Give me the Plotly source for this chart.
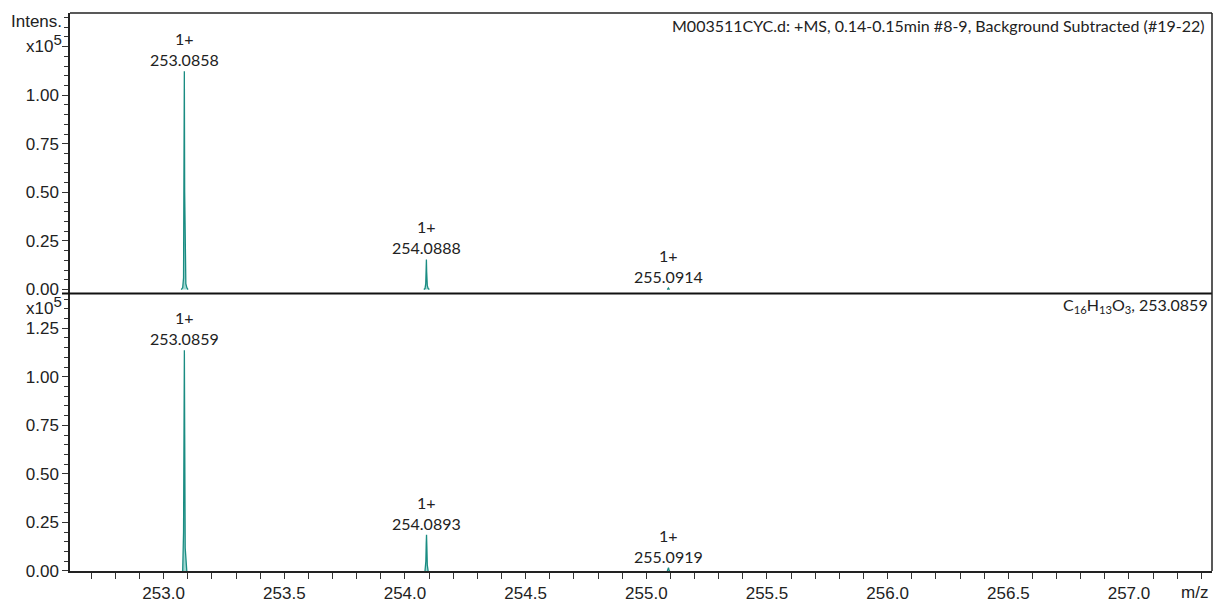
import plotly.graph_objects as go

# Measured spectrum, profile points per isotope peak (intensity in units of 1e5)
meas_mz = [
    [253.0730, 253.0790, 253.0825, 253.0845, 253.0858, 253.0872, 253.0890, 253.0920, 253.0960, 253.1010],
    [254.0780, 254.0830, 254.0860, 254.0876, 254.0888, 254.0900, 254.0925, 254.0960, 254.1010],
    [255.0870, 255.0900, 255.0914, 255.0930, 255.0965],
]
meas_int = [
    [0, 0.01, 0.06, 0.55, 1.124, 0.50, 0.08, 0.03, 0.01, 0],
    [0, 0.005, 0.03, 0.10, 0.155, 0.09, 0.02, 0.006, 0],
    [0, 0.004, 0.008, 0.004, 0],
]

# Simulated isotope pattern for C16H13O3
sim_mz = [
    [253.0790, 253.0825, 253.0845, 253.0859, 253.0873, 253.0893, 253.0925, 253.0960],
    [254.0830, 254.0865, 254.0880, 254.0893, 254.0906, 254.0925, 254.0960],
    [255.0870, 255.0905, 255.0919, 255.0933, 255.0965],
]
sim_int = [
    [0, 0.20, 0.75, 1.136, 0.70, 0.12, 0.02, 0],
    [0, 0.05, 0.14, 0.187, 0.13, 0.03, 0],
    [0, 0.009, 0.017, 0.009, 0],
]

meas_peaks = [253.0858, 254.0888, 255.0914]
meas_peak_int = [1.124, 0.155, 0.008]
sim_peaks = [253.0859, 254.0893, 255.0919]
sim_peak_int = [1.136, 0.187, 0.017]
charge = "1+"

x_ticks = [253.0, 253.5, 254.0, 254.5, 255.0, 255.5, 256.0, 256.5, 257.0]

TEAL = "#1a8c82"
FILL = "rgba(95,190,180,0.6)"
TXT = "#222222"
LBL_FONT = dict(family="Lato, Open Sans, sans-serif", size=16, color=TXT)
TICK_FONT = dict(family="Liberation Sans, Arial, sans-serif", size=17, color=TXT)
EXP = "x10<sup><span style='font-size:15px'>5</span></sup>"

fig = go.Figure()
for xs, ys in zip(meas_mz, meas_int):
    fig.add_trace(go.Scatter(x=xs, y=ys, mode="lines", fill="tozeroy",
                             line=dict(color=TEAL, width=1.3), fillcolor=FILL,
                             xaxis="x", yaxis="y2", hoverinfo="skip", showlegend=False))
for xs, ys in zip(sim_mz, sim_int):
    fig.add_trace(go.Scatter(x=xs, y=ys, mode="lines", fill="tozeroy",
                             line=dict(color=TEAL, width=1.3), fillcolor=FILL,
                             xaxis="x", yaxis="y", hoverinfo="skip", showlegend=False))

annotations = []
for mz, h in zip(meas_peaks, meas_peak_int):
    annotations.append(dict(x=mz, y=h, xref="x", yref="y2", text=f"{charge}<br>{mz:.4f}",
                            showarrow=False, yanchor="bottom", yshift=0, font=LBL_FONT,
                            align="center"))
for mz, h in zip(sim_peaks, sim_peak_int):
    annotations.append(dict(x=mz, y=h, xref="x", yref="y", text=f"{charge}<br>{mz:.4f}",
                            showarrow=False, yanchor="bottom", yshift=0, font=LBL_FONT,
                            align="center"))

annotations += [
    dict(x=0.996, y=0.977, xref="paper", yref="paper", xanchor="right", yanchor="middle",
         text="M003511CYC.d: +MS, 0.14-0.15min #8-9, Background Subtracted (#19-22)",
         showarrow=False, font=LBL_FONT),
    dict(x=0.998, y=0.476, xref="paper", yref="paper", xanchor="right", yanchor="middle",
         text="C<sub>16</sub>H<sub>13</sub>O<sub>3</sub>, 253.0859",
         showarrow=False, font=LBL_FONT),
    dict(x=-0.005, y=0.985, xref="paper", yref="paper", xanchor="right", yanchor="middle",
         text="Intens.", showarrow=False, font=TICK_FONT),
    dict(x=-0.005, y=0.946, xref="paper", yref="paper", xanchor="right", yanchor="middle",
         text=EXP, showarrow=False, font=TICK_FONT),
    dict(x=-0.005, y=0.476, xref="paper", yref="paper", xanchor="right", yanchor="middle",
         text=EXP, showarrow=False, font=TICK_FONT),
    dict(x=0.985, y=-0.018, xref="paper", yref="paper", xanchor="center", yanchor="top",
         text="m/z", showarrow=False, font=TICK_FONT),
]

y_common = dict(ticks="outside", ticklen=6, tickwidth=1, tickcolor="#333",
                showline=True, linecolor="#222", linewidth=1.5, showgrid=False,
                zeroline=False, tickfont=TICK_FONT, tickformat=".2f",
                minor=dict(dtick=0.05, ticks="outside", ticklen=4, tickcolor="#333"))

fig.update_layout(
    width=1215, height=606,
    margin=dict(l=70, r=3, t=13, b=30),
    paper_bgcolor="white", plot_bgcolor="white",
    xaxis=dict(range=[252.612, 257.344], tickvals=x_ticks, ticktext=[f"{v:.1f}" for v in x_ticks],
               ticks="outside", ticklen=6, tickcolor="#333", showline=True, linecolor="#222",
               linewidth=1.5, showgrid=False, zeroline=False, tickfont=TICK_FONT,
               minor=dict(dtick=0.1, tick0=253.0, ticks="outside", ticklen=6, tickcolor="#333"),
               anchor="y"),
    yaxis=dict(domain=[0, 0.4973], range=[0, 1.4286],
               tickvals=[0, 0.25, 0.5, 0.75, 1.0, 1.25], **y_common),
    yaxis2=dict(domain=[0.4973, 1], range=[-0.0204, 1.4235],
                tickvals=[0, 0.25, 0.5, 0.75, 1.0, 1.25],
                ticktext=["0.00", "0.25", "0.50", "0.75", "1.00", ""], **y_common),
    annotations=annotations,
    shapes=[
        dict(type="line", xref="paper", yref="paper", x0=-0.007, x1=1, y0=0.4973, y1=0.4973,
             line=dict(color="#111", width=2)),
        dict(type="line", xref="paper", yref="paper", x0=0, x1=1, y0=1, y1=1,
             line=dict(color="#222", width=1.5)),
        dict(type="line", xref="paper", yref="paper", x0=1, x1=1, y0=0, y1=1,
             line=dict(color="#222", width=1.5)),
    ],
)

fig.write_html("out.html")
